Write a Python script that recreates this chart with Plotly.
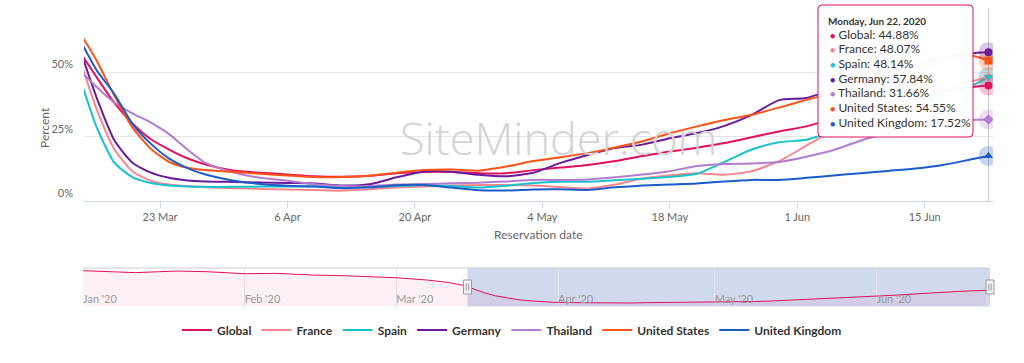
import plotly.graph_objects as go

# ---------------- data ----------------
dates = ["2020-03-14", "2020-03-16", "2020-03-18", "2020-03-20", "2020-03-22", "2020-03-24",
         "2020-03-26", "2020-03-28", "2020-03-31", "2020-04-03", "2020-04-06", "2020-04-09",
         "2020-04-12", "2020-04-15", "2020-04-18", "2020-04-21", "2020-04-24", "2020-04-27",
         "2020-04-30", "2020-05-03", "2020-05-06", "2020-05-09", "2020-05-12", "2020-05-15",
         "2020-05-18", "2020-05-21", "2020-05-24", "2020-05-27", "2020-05-30", "2020-06-02",
         "2020-06-05", "2020-06-08", "2020-06-11", "2020-06-14", "2020-06-17", "2020-06-20",
         "2020-06-22"]

global_vals = [59, 48.3, 38, 30, 24, 20, 16.6, 14.2, 11.9, 11.0, 10.3, 9.6, 9.4, 9.8, 10.8, 11.3,
               11.3, 10.8, 10.8, 12.0, 13.0, 14.0, 15.5, 17.5, 19.2, 20.7, 22.5, 24.8, 27.0, 29.0,
               32.0, 35.0, 38.0, 40.5, 42.5, 44.2, 44.88]
france_vals = [57, 36, 20, 11.5, 7.8, 6.4, 5.8, 5.3, 5.0, 4.7, 4.5, 4.3, 4.0, 4.6, 5.2, 5.6,
               6.0, 6.2, 6.2, 6.0, 5.4, 4.9, 6.4, 8.7, 10.0, 10.8, 10.2, 11.6, 15.5, 21.5,
               27.5, 32.5, 36.5, 40.0, 43.3, 46.4, 48.07]
spain_vals = [50, 29, 14.8, 9.2, 7.0, 6.0, 5.6, 5.5, 5.5, 5.6, 5.6, 5.7, 5.3, 5.4, 5.8, 6.2,
              5.8, 5.2, 5.9, 7.0, 7.5, 7.5, 8.1, 8.6, 9.4, 10.6, 15.2, 20.0, 22.8, 23.8,
              27.0, 30.5, 34.0, 37.5, 41.0, 44.5, 48.14]
germany_vals = [61, 40.5, 23.5, 14.8, 11.0, 9.0, 8.0, 7.6, 7.4, 7.2, 7.0, 6.8, 6.0, 6.5, 9.2, 11.5,
                11.4, 10.2, 9.6, 11.0, 14.8, 17.9, 20.6, 21.9, 24.4, 26.4, 29.2, 33.5, 39.2, 40.0,
                43.5, 46.5, 50.0, 53.0, 55.5, 57.4, 57.84]
thailand_vals = [51.5, 44.4, 38.2, 34, 30.5, 26, 20, 14.8, 11.2, 9.0, 7.9, 6.5, 5.8, 5.8, 6.4, 6.6,
                 6.9, 7.1, 7.6, 8.2, 8.2, 8.4, 9.2, 10.3, 11.6, 13.6, 14.4, 14.6, 15.2, 17.2,
                 19.8, 23.5, 26.5, 29.0, 30.8, 31.5, 31.66]
us_vals = [66.5, 54.8, 40.8, 28.4, 20.2, 15.2, 12.9, 12.0, 11.3, 10.6, 9.9, 9.3, 9.3, 9.8, 11.0, 12.0,
           12.2, 11.8, 13.4, 15.5, 17.0, 18.6, 20.8, 23.2, 26.3, 29.0, 31.5, 33.5, 36.3, 39.3,
           42.0, 45.0, 48.0, 51.0, 54.0, 56.5, 54.55]
uk_vals = [64, 51, 41.5, 29.8, 22.2, 16.5, 12.8, 10.3, 8.0, 6.6, 5.9, 5.6, 5.0, 5.3, 6.1, 6.2,
           5.2, 4.2, 4.1, 4.5, 4.6, 4.3, 5.3, 6.0, 6.4, 6.8, 7.6, 8.2, 8.2, 9.0,
           9.9, 10.8, 11.7, 12.6, 14.0, 16.1, 17.52]

series_names = ["Global", "France", "Spain", "Germany", "Thailand", "United States", "United Kingdom"]
series_values = [global_vals, france_vals, spain_vals, germany_vals, thailand_vals, us_vals, uk_vals]
series_colors = ["#e0115f", "#f7878e", "#17c3cd", "#6a1b9a", "#b27ccf", "#fc5316", "#1b5cc8"]
series_symbols = ["circle", "diamond", "triangle-down", "circle", "diamond", "square", "triangle-up"]

# navigator (Global, before the selected range)
nav_dates = ["2020-01-01", "2020-01-06", "2020-01-11", "2020-01-19", "2020-01-25", "2020-02-01",
             "2020-02-07", "2020-02-14", "2020-02-20", "2020-03-01", "2020-03-07", "2020-03-11"]
nav_global = [100.5, 98, 95, 99.5, 97.5, 92, 93, 88.3, 86.3, 80.7, 74.2, 67.4]

x_tick_vals = ["2020-03-23", "2020-04-06", "2020-04-20", "2020-05-04", "2020-05-18", "2020-06-01", "2020-06-15"]
x_tick_text = ["23 Mar", "6 Apr", "20 Apr", "4 May", "18 May", "1 Jun", "15 Jun"]
y_tick_vals = [0, 25, 50, 75]
y_tick_text = ["0%", "25%", "50%", ""]
nav_tick_vals = ["2020-01-01", "2020-02-01", "2020-03-01", "2020-04-01", "2020-05-01", "2020-06-01"]
nav_tick_text = ["Jan '20", "Feb '20", "Mar '20", "Apr '20", "May '20", "Jun '20"]

main_range = ["2020-03-14 15:30", "2020-06-22 12:00"]
nav_range = ["2020-01-01", "2020-06-22 18:00"]
tooltip_header = "Monday, Jun 22, 2020"

# ---------------- layout helpers ----------------
W, H = 1024, 363
def px(x):
    return x / W
def py(y):
    return 1 - y / H

FONT = "Lato, 'Open Sans', sans-serif"

fig = go.Figure()

# main lines
for name, vals, col in zip(series_names, series_values, series_colors):
    fig.add_trace(go.Scatter(x=dates, y=vals, name=name, mode="lines",
                             line=dict(color=col, width=2, shape="spline", smoothing=0.6),
                             hoverinfo="skip"))

# hovered end points with halos
for name, vals, col, sym in zip(series_names, series_values, series_colors, series_symbols):
    fig.add_trace(go.Scatter(x=[dates[-1]], y=[vals[-1]], mode="markers", showlegend=False,
                             marker=dict(size=20, color=col, opacity=0.25), hoverinfo="skip"))
for name, vals, col, sym in zip(series_names, series_values, series_colors, series_symbols):
    fig.add_trace(go.Scatter(x=[dates[-1]], y=[vals[-1]], mode="markers", showlegend=False,
                             marker=dict(size=8, color=col, symbol=sym), hoverinfo="skip"))

# navigator series
fig.add_trace(go.Scatter(x=nav_dates + dates, y=nav_global + global_vals, mode="lines",
                         xaxis="x2", yaxis="y2", showlegend=False, hoverinfo="skip",
                         line=dict(color="#e0115f", width=1), fill="tozeroy",
                         fillcolor="rgba(224,17,95,0.06)"))

main_xdom = [px(84), px(993)]
main_ydom = [py(201), py(8)]
nav_xdom = [px(83), px(990)]
nav_ydom = [py(306.5), py(268)]

shapes = []
# crosshair
shapes.append(dict(type="line", xref="x", yref="y domain", x0=dates[-1], x1=dates[-1], y0=0, y1=1,
                   line=dict(color="#cccccc", width=1), layer="below"))
# navigator selection mask
shapes.append(dict(type="rect", xref="x2", yref="y2 domain", x0=main_range[0], x1=nav_range[1],
                   y0=0, y1=1, fillcolor="rgba(102,133,194,0.3)", line=dict(width=0), layer="below"))
# navigator top outline
shapes.append(dict(type="line", xref="paper", yref="paper", x0=nav_xdom[0], x1=nav_xdom[1],
                   y0=nav_ydom[1], y1=nav_ydom[1], line=dict(color="#cccccc", width=1)))
# navigator handles
for anchor_ref, anchor in (("x2", main_range[0]), ("paper", nav_xdom[1])):
    shapes.append(dict(type="rect", xref=anchor_ref, xsizemode="pixel", xanchor=anchor, x0=-4, x1=4,
                       yref="paper", y0=py(294), y1=py(280), fillcolor="#f2f2f2",
                       line=dict(color="#999999", width=1), layer="above"))
    for off in (-1.2, 1.2):
        shapes.append(dict(type="line", xref=anchor_ref, xsizemode="pixel", xanchor=anchor,
                           x0=off, x1=off, yref="paper", y0=py(290.5), y1=py(283.5),
                           line=dict(color="#999999", width=1), layer="above"))

# tooltip box (rounded)
L, R, T, B, r = 818, 973, 5, 137, 4
path = (f"M {px(L + r)},{py(T)} L {px(R - r)},{py(T)} Q {px(R)},{py(T)} {px(R)},{py(T + r)} "
        f"L {px(R)},{py(B - r)} Q {px(R)},{py(B)} {px(R - r)},{py(B)} "
        f"L {px(L + r)},{py(B)} Q {px(L)},{py(B)} {px(L)},{py(B - r)} "
        f"L {px(L)},{py(T + r)} Q {px(L)},{py(T)} {px(L + r)},{py(T)} Z")
shapes.append(dict(type="path", xref="paper", yref="paper", path=path,
                   fillcolor="rgba(255,255,255,0.97)", line=dict(color="#e0115f", width=1),
                   layer="above"))

annotations = []
annotations.append(dict(text="SiteMinder.com", x=px(558), y=py(105), xref="paper", yref="paper",
                        showarrow=False, font=dict(family="'Open Sans', sans-serif", size=45,
                                                   color="#d3d3d3", weight=300)))
annotations.append(dict(text="Percent", x=px(35), y=py(105), xref="paper", yref="paper",
                        textangle=-90, showarrow=False, font=dict(family=FONT, size=12, color="#666666")))
annotations.append(dict(text="Reservation date", x=(main_xdom[0] + main_xdom[1]) / 2, y=py(234),
                        xref="paper", yref="paper", showarrow=False,
                        font=dict(family=FONT, size=12, color="#666666")))
annotations.append(dict(text=f"<b>{tooltip_header}</b>", x=px(826), y=py(21), xref="paper", yref="paper",
                        xanchor="left", yanchor="middle", showarrow=False,
                        font=dict(family=FONT, size=10, color="#333333")))
for i, (name, vals, col) in enumerate(zip(series_names, series_values, series_colors)):
    annotations.append(dict(
        text=f'<span style="color:{col};font-size:9px">●</span> {name}: {vals[-1]:.2f}%',
        x=px(828), y=py(34.3 + i * 14.67), xref="paper", yref="paper", xanchor="left",
        yanchor="middle", showarrow=False, font=dict(family=FONT, size=12, color="#333333")))

fig.update_layout(
    width=W, height=H, margin=dict(l=0, r=0, t=0, b=0),
    paper_bgcolor="white", plot_bgcolor="white",
    hovermode=False,
    font=dict(family=FONT, color="#666666"),
    xaxis=dict(domain=main_xdom, range=main_range, type="date", tickvals=x_tick_vals,
               ticktext=x_tick_text, showgrid=False, zeroline=False, showline=True,
               linecolor="#ccd6eb", linewidth=1, ticks="outside", ticklen=6, tickcolor="#ccd6eb",
               tickfont=dict(size=11, color="#666666"), automargin=False, fixedrange=True),
    yaxis=dict(domain=main_ydom, range=[0, 75], tickvals=y_tick_vals, ticktext=y_tick_text,
               showgrid=True, gridcolor="#e6e6e6", gridwidth=1, zeroline=False, showline=False,
               ticks="", ticklabelposition="outside top", ticklabelstandoff=10,
               tickfont=dict(size=11, color="#666666"), automargin=False, fixedrange=True),
    xaxis2=dict(domain=nav_xdom, range=nav_range, type="date", anchor="y2", tickvals=nav_tick_vals,
                ticktext=nav_tick_text, showgrid=True, gridcolor="#e6e6e6", gridwidth=1,
                zeroline=False, showline=False, ticks="", ticklabelposition="inside right",
                ticklabelstandoff=-5,
                tickfont=dict(size=11, color="#999999"), automargin=False, fixedrange=True),
    yaxis2=dict(domain=nav_ydom, range=[0, 108], anchor="x2", visible=False, fixedrange=True),
    legend=dict(orientation="h", x=0.5, xanchor="center", y=py(330), yanchor="middle",
                font=dict(family=FONT, size=12, color="#333333", weight="bold"),
                bgcolor="rgba(0,0,0,0)", itemwidth=30, traceorder="normal"),
    shapes=shapes, annotations=annotations,
)

fig.write_html("out.html", config={"displayModeBar": False, "staticPlot": True},
               post_script="document.body.style.margin='0';document.body.style.overflow='hidden';")
